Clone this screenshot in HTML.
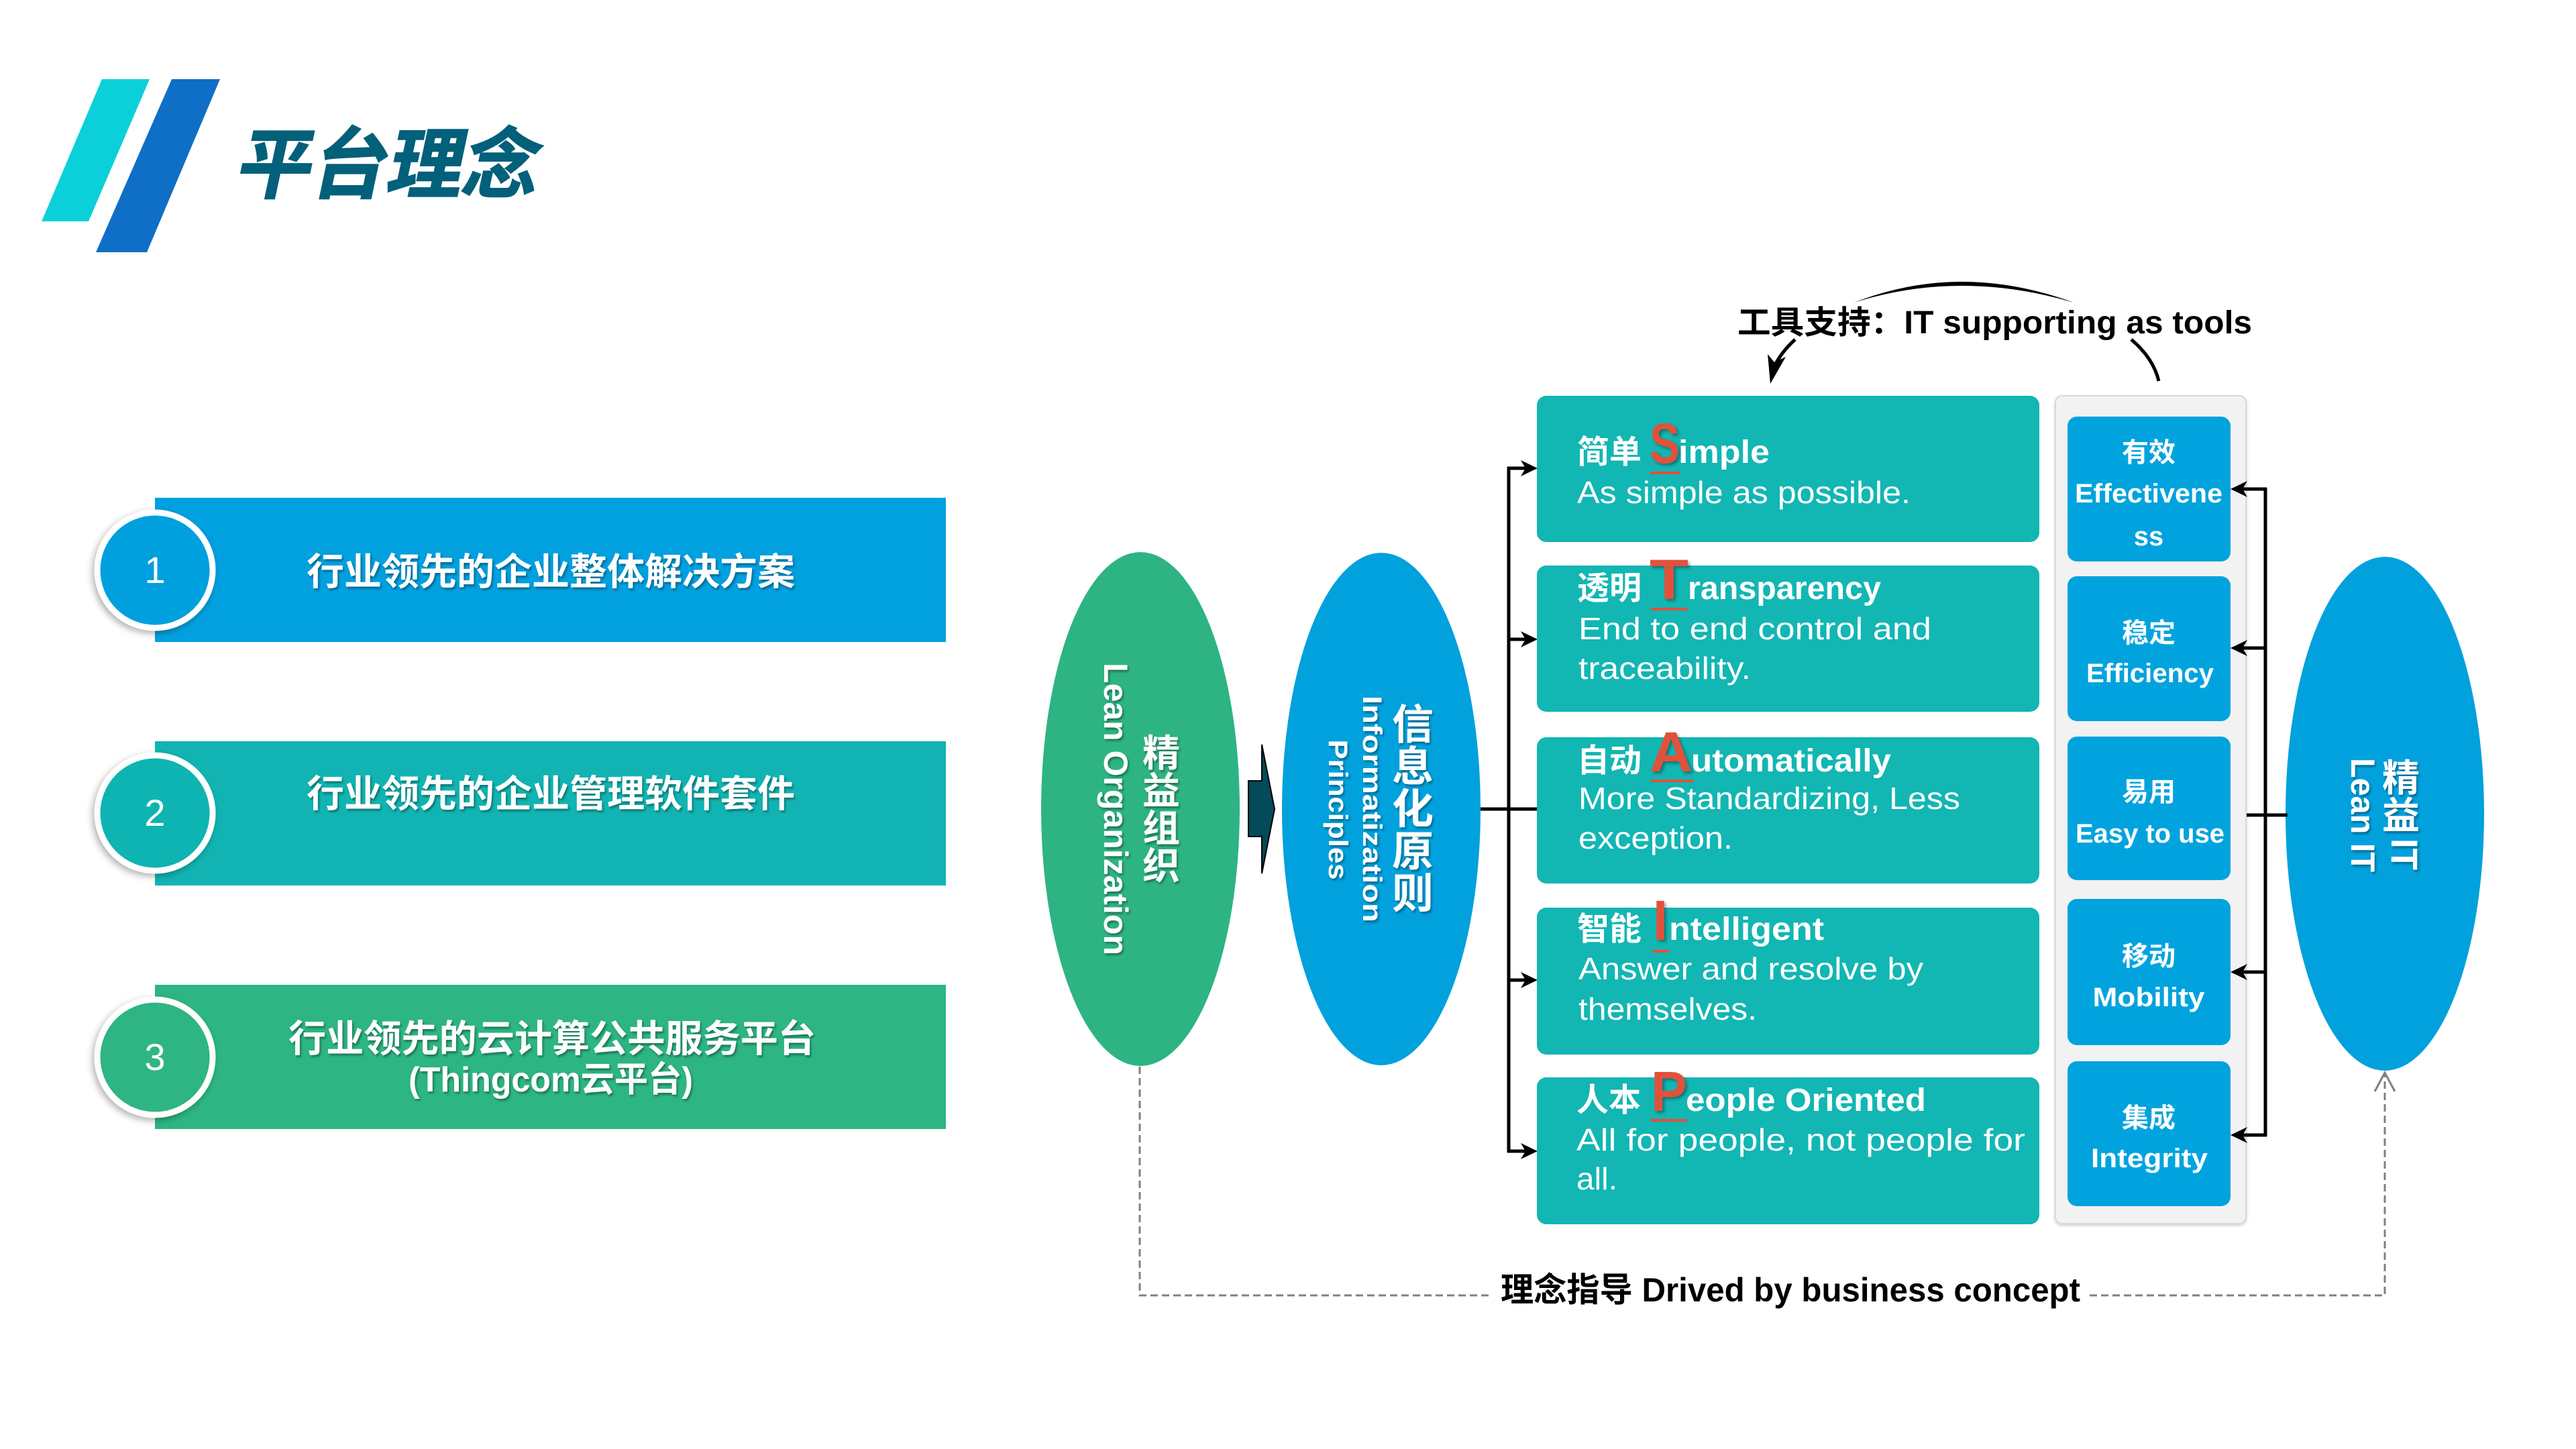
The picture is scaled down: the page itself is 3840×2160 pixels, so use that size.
<!DOCTYPE html>
<html><head><meta charset="utf-8"><style>
html,body{margin:0;padding:0;background:#fff;}
svg{display:block;}
text{font-family:"Liberation Sans","Noto Sans CJK SC",sans-serif;}
.b{font-weight:bold;}
.w{fill:#fff;}
</style></head><body>
<svg width="3840" height="2160" viewBox="0 0 3840 2160" xmlns="http://www.w3.org/2000/svg">
<defs>
<filter id="sh" x="-10%" y="-20%" width="130%" height="160%"><feDropShadow dx="2" dy="3" stdDeviation="1.5" flood-color="#000" flood-opacity="0.35"/></filter>
<filter id="rsh" x="-20%" y="-20%" width="150%" height="150%"><feDropShadow dx="3" dy="3" stdDeviation="2" flood-color="#000" flood-opacity="0.35"/></filter>
<filter id="csh" x="-20%" y="-20%" width="150%" height="150%"><feDropShadow dx="-3" dy="4" stdDeviation="5" flood-color="#000" flood-opacity="0.3"/></filter>
<filter id="psh" x="-5%" y="-5%" width="110%" height="110%"><feDropShadow dx="0" dy="2" stdDeviation="2" flood-color="#000" flood-opacity="0.2"/></filter>
</defs>

<!-- header stripes -->
<polygon points="152,118 223,118 132,330 62,330" fill="#0bd0d9"/>
<polygon points="256,118 328,118 219,376 143,376" fill="#0f6fc6"/>
<g transform="translate(348,286) skewX(-12)">
<text x="0" y="0" class="b" font-size="115" fill="#03607a" stroke="#03607a" stroke-width="2" textLength="450" lengthAdjust="spacingAndGlyphs">平台理念</text>
</g>

<!-- left banners -->
<rect x="231" y="742" width="1179" height="215" fill="#01a0df"/>
<rect x="231" y="1105" width="1179" height="215" fill="#11b4b2"/>
<rect x="231" y="1468" width="1179" height="215" fill="#2db583"/>

<circle cx="231" cy="850" r="86" fill="#01a0df" stroke="#fff" stroke-width="9" filter="url(#csh)"/>
<circle cx="231" cy="1212" r="86" fill="#11b4b2" stroke="#fff" stroke-width="9" filter="url(#csh)"/>
<circle cx="231" cy="1576" r="86" fill="#2db583" stroke="#fff" stroke-width="9" filter="url(#csh)"/>
<text x="231" y="869" text-anchor="middle" font-size="56" class="w">1</text>
<text x="231" y="1231" text-anchor="middle" font-size="56" class="w">2</text>
<text x="231" y="1595" text-anchor="middle" font-size="56" class="w">3</text>

<g filter="url(#sh)">
<text x="821" y="872" text-anchor="middle" font-size="56" class="b w" textLength="728" lengthAdjust="spacingAndGlyphs">行业领先的企业整体解决方案</text>
<text x="821" y="1203" text-anchor="middle" font-size="56" class="b w" textLength="728" lengthAdjust="spacingAndGlyphs">行业领先的企业管理软件套件</text>
<text x="823" y="1568" text-anchor="middle" font-size="56" class="b w" textLength="786" lengthAdjust="spacingAndGlyphs">行业领先的云计算公共服务平台</text>
<text x="821" y="1627" text-anchor="middle" font-size="52" class="b w" textLength="424" lengthAdjust="spacingAndGlyphs">(Thingcom云平台)</text>
</g>

<!-- ellipses -->
<ellipse cx="1700" cy="1206" rx="148" ry="383" fill="#2db482"/>
<ellipse cx="2059" cy="1206" rx="148" ry="382" fill="#00a1dd"/>
<ellipse cx="3555" cy="1213" rx="148" ry="383" fill="#00a1dd"/>

<!-- green ellipse text -->
<g filter="url(#sh)">
<g text-anchor="middle" dominant-baseline="central" font-size="56" class="b w">
<text x="1731" y="1123" class="b w">精</text>
<text x="1731" y="1179" class="b w">益</text>
<text x="1731" y="1235" class="b w">组</text>
<text x="1731" y="1291" class="b w">织</text>
</g>
<g transform="translate(1700,1206) rotate(90)">
<text x="0" y="54" text-anchor="middle" font-size="50" class="b w" textLength="436" lengthAdjust="spacingAndGlyphs">Lean Organization</text>
</g>
</g>

<!-- blue ellipse text -->
<g filter="url(#sh)">
<g text-anchor="middle" dominant-baseline="central" font-size="62">
<text x="2106" y="1081" class="b w">信</text>
<text x="2106" y="1144" class="b w">息</text>
<text x="2106" y="1207" class="b w">化</text>
<text x="2106" y="1270" class="b w">原</text>
<text x="2106" y="1333" class="b w">则</text>
</g>
<g transform="translate(2059,1206) rotate(90)">
<text x="0" y="27" text-anchor="middle" font-size="40" class="b w" textLength="338" lengthAdjust="spacingAndGlyphs">Informatization</text>
<text x="1" y="78" text-anchor="middle" font-size="40" class="b w" textLength="209" lengthAdjust="spacingAndGlyphs">Principles</text>
</g>
</g>

<!-- right ellipse text -->
<g filter="url(#sh)">
<g text-anchor="middle" dominant-baseline="central" font-size="56">
<text x="3579" y="1160" class="b w">精</text>
<text x="3579" y="1216" class="b w">益</text>
</g>
<g transform="translate(3555,1213) rotate(90)">
<text x="37" y="-10" font-size="56" class="b w" textLength="47" lengthAdjust="spacingAndGlyphs">IT</text>
<text x="2" y="50" text-anchor="middle" font-size="50" class="b w" textLength="170" lengthAdjust="spacingAndGlyphs">Lean IT</text>
</g>
</g>

<!-- block arrow between ellipses -->
<path d="M1861,1164 H1881 V1110 L1900,1206 L1881,1302 V1247 H1861 Z" fill="#034a5b" stroke="#000" stroke-width="2"/>

<!-- left trunk connectors -->
<g stroke="#000" stroke-width="5" fill="none">
<line x1="2207" y1="1206" x2="2291" y2="1206"/>
<line x1="2249" y1="696" x2="2249" y2="1718"/>
<line x1="2247" y1="698" x2="2276" y2="698"/>
<line x1="2247" y1="953" x2="2276" y2="953"/>
<line x1="2247" y1="1461" x2="2276" y2="1461"/>
<line x1="2247" y1="1716" x2="2276" y2="1716"/>
</g>
<g fill="#000">
<path d="M2292,698 L2267,686 L2274,698 L2267,710 Z"/>
<path d="M2292,953 L2267,941 L2274,953 L2267,965 Z"/>
<path d="M2292,1461 L2267,1449 L2274,1461 L2267,1473 Z"/>
<path d="M2292,1716 L2267,1704 L2274,1716 L2267,1728 Z"/>
</g>

<!-- teal boxes -->
<g fill="#12b6b3">
<rect x="2291" y="590" width="749" height="218" rx="14"/>
<rect x="2291" y="843" width="749" height="218" rx="14"/>
<rect x="2291" y="1099" width="749" height="218" rx="14"/>
<rect x="2291" y="1353" width="749" height="219" rx="14"/>
<rect x="2291" y="1606" width="749" height="219" rx="14"/>
</g>

<!-- box texts -->
<g class="w">
<text x="2351" y="690" font-size="48" class="b w">简单</text>
<text x="2502" y="690" font-size="48" class="b w" textLength="136" lengthAdjust="spacingAndGlyphs">imple</text>
<text x="2351" y="750" font-size="46" class="w" textLength="497" lengthAdjust="spacingAndGlyphs">As simple as possible.</text>

<text x="2351" y="893" font-size="48" class="b w">透明</text>
<text x="2516" y="893" font-size="48" class="b w" textLength="288" lengthAdjust="spacingAndGlyphs">ransparency</text>
<text x="2353" y="953" font-size="46" class="w" textLength="526" lengthAdjust="spacingAndGlyphs">End to end control and</text>
<text x="2353" y="1012" font-size="46" class="w" textLength="257" lengthAdjust="spacingAndGlyphs">traceability.</text>

<text x="2351" y="1150" font-size="48" class="b w">自动</text>
<text x="2521" y="1150" font-size="48" class="b w" textLength="298" lengthAdjust="spacingAndGlyphs">utomatically</text>
<text x="2353" y="1206" font-size="46" class="w" textLength="569" lengthAdjust="spacingAndGlyphs">More Standardizing, Less</text>
<text x="2353" y="1265" font-size="46" class="w" textLength="230" lengthAdjust="spacingAndGlyphs">exception.</text>

<text x="2351" y="1401" font-size="48" class="b w">智能</text>
<text x="2488" y="1401" font-size="48" class="b w" textLength="231" lengthAdjust="spacingAndGlyphs">ntelligent</text>
<text x="2353" y="1460" font-size="46" class="w" textLength="514" lengthAdjust="spacingAndGlyphs">Answer and resolve by</text>
<text x="2353" y="1520" font-size="46" class="w" textLength="266" lengthAdjust="spacingAndGlyphs">themselves.</text>

<text x="2350" y="1656" font-size="48" class="b w">人本</text>
<text x="2513" y="1656" font-size="48" class="b w" textLength="358" lengthAdjust="spacingAndGlyphs">eople Oriented</text>
<text x="2350" y="1715" font-size="46" class="w" textLength="669" lengthAdjust="spacingAndGlyphs">All for people, not people for</text>
<text x="2350" y="1773" font-size="46" class="w" textLength="61" lengthAdjust="spacingAndGlyphs">all.</text>
</g>

<!-- red initials -->
<g fill="#e2513b" filter="url(#rsh)">
<text x="2459" y="690" font-size="84" class="b" fill="#e2513b" textLength="45" lengthAdjust="spacingAndGlyphs">S</text>
<text x="2459" y="893" font-size="84" class="b" fill="#e2513b" textLength="58" lengthAdjust="spacingAndGlyphs">T</text>
<text x="2459" y="1150" font-size="84" class="b" fill="#e2513b" textLength="64" lengthAdjust="spacingAndGlyphs">A</text>
<text x="2464" y="1401" font-size="84" class="b" fill="#e2513b" textLength="22" lengthAdjust="spacingAndGlyphs">I</text>
<text x="2461" y="1656" font-size="84" class="b" fill="#e2513b" textLength="54" lengthAdjust="spacingAndGlyphs">P</text>
</g>
<g fill="#e2513b">
<rect x="2460" y="703" width="45" height="4"/>
<rect x="2461" y="906" width="55" height="4"/>
<rect x="2461" y="1162" width="63" height="4"/>
<rect x="2463" y="1416" width="25" height="4"/>
<rect x="2460" y="1668" width="55" height="4"/>
</g>

<!-- tools panel -->
<rect x="3064" y="590" width="284" height="1234" rx="10" fill="#f2f2f2" stroke="#d9d9d9" stroke-width="2" filter="url(#psh)"/>
<g fill="#01a3de">
<rect x="3082" y="621" width="243" height="216" rx="14"/>
<rect x="3082" y="859" width="243" height="216" rx="14"/>
<rect x="3082" y="1098" width="243" height="214" rx="14"/>
<rect x="3082" y="1340" width="243" height="218" rx="14"/>
<rect x="3082" y="1582" width="243" height="216" rx="14"/>
</g>
<g text-anchor="middle">
<text x="3203" y="688" font-size="40" class="b w">有效</text>
<text x="3203" y="749" font-size="40" class="b w" textLength="220" lengthAdjust="spacingAndGlyphs">Effectivene</text>
<text x="3203" y="813" font-size="40" class="b w">ss</text>
<text x="3203" y="957" font-size="40" class="b w">稳定</text>
<text x="3205" y="1017" font-size="40" class="b w" textLength="190" lengthAdjust="spacingAndGlyphs">Efficiency</text>
<text x="3203" y="1194" font-size="40" class="b w">易用</text>
<text x="3205" y="1256" font-size="40" class="b w" textLength="222" lengthAdjust="spacingAndGlyphs">Easy to use</text>
<text x="3203" y="1439" font-size="40" class="b w">移动</text>
<text x="3203" y="1500" font-size="40" class="b w" textLength="167" lengthAdjust="spacingAndGlyphs">Mobility</text>
<text x="3203" y="1680" font-size="40" class="b w">集成</text>
<text x="3204" y="1740" font-size="40" class="b w" textLength="174" lengthAdjust="spacingAndGlyphs">Integrity</text>
</g>

<!-- right trunk connectors -->
<g stroke="#000" stroke-width="5" fill="none">
<line x1="3377" y1="727" x2="3377" y2="1694"/>
<line x1="3379" y1="729" x2="3343" y2="729"/>
<line x1="3379" y1="966" x2="3343" y2="966"/>
<line x1="3379" y1="1449" x2="3343" y2="1449"/>
<line x1="3379" y1="1692" x2="3343" y2="1692"/>
<line x1="3349" y1="1215" x2="3410" y2="1215"/>
</g>
<g fill="#000">
<path d="M3325,729 L3350,717 L3343,729 L3350,741 Z"/>
<path d="M3325,966 L3350,954 L3343,966 L3350,978 Z"/>
<path d="M3325,1449 L3350,1437 L3343,1449 L3350,1461 Z"/>
<path d="M3325,1692 L3350,1680 L3343,1692 L3350,1704 Z"/>
</g>

<!-- top label and curved arrows -->
<text x="2590" y="497" font-size="48" class="b" fill="#000" textLength="767" lengthAdjust="spacingAndGlyphs">工具支持：IT supporting as tools</text>
<path d="M2764,451 Q2922,389 3091,451 Q2922,401 2764,451 Z" fill="#000"/>
<path d="M2676,506 Q2656,524 2645,546" stroke="#000" stroke-width="5" fill="none"/>
<path d="M2639,572 L2635,528 L2645,540 L2662,532 Z" fill="#000"/>
<path d="M3177,506 Q3210,534 3218,568" stroke="#000" stroke-width="5" fill="none"/>

<!-- dashed feedback connector -->
<g stroke="#808080" stroke-width="3" fill="none" stroke-dasharray="11 6">
<path d="M1699,1590 V1931 H2225"/>
<path d="M3115,1931 H3555 V1602"/>
</g>
<path d="M3540,1627 L3555,1599 L3570,1627" stroke="#808080" stroke-width="3" fill="none"/>
<text x="2237" y="1940" font-size="50" class="b" fill="#000" textLength="864" lengthAdjust="spacingAndGlyphs">理念指导 Drived by business concept</text>

</svg>
</body></html>
